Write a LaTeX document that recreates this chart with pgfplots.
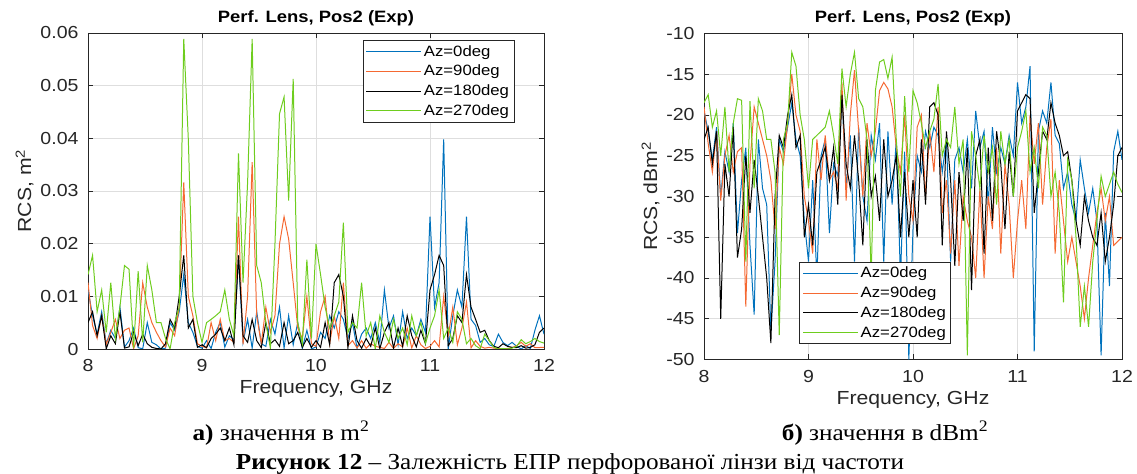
\documentclass[border=0pt]{standalone}
\usepackage{pgfplots}
\pgfplotsset{compat=1.18}
\usepackage{pgfplotstable}
\usepackage{fontspec}
\setmainfont{Liberation Sans}[FakeStretch=1.12]
\newfontfamily\capfont{Liberation Serif}[FakeStretch=1.1]
\definecolor{mblue}{RGB}{0,114,189}
\definecolor{morange}{RGB}{245,105,50}
\definecolor{mgreen}{RGB}{110,205,30}
\definecolor{axgray}{RGB}{38,38,38}
\definecolor{gridgray}{RGB}{222,222,222}

% RCS in dBm^2 for the four azimuths (the left panel shows the same data in m^2)
\pgfplotstableread{
f b o k g
8.00 -19.5 -19 -23 -18.5
8.04 -22 -23.5 -21.5 -17.5
8.08 -25.5 -27 -26 -21.5
8.12 -21.5 -22 -22 -19.5
8.16 -30 -30.5 -45 -25
8.20 -24.5 -25 -26 -19
8.24 -27 -22.5 -30 -27
8.28 -21 -27 -21.5 -21
8.32 -34.5 -24.5 -37.5 -18
8.36 -28 -24 -34 -18.2
8.40 -24 -43.5 -25 -38
8.44 -36 -26 -32 -18.3
8.48 -44.5 -19 -25.5 -29
8.52 -23 -21 -30 -18
8.56 -29 -23 -35 -19.5
8.60 -31 -25 -40 -23
8.64 -46.5 -28 -48 -23
8.68 -38 -34 -30 -27
8.72 -23 -24 -22.5 -47
8.76 -24.5 -26 -24 -23
8.80 -21.5 -21 -20 -21
8.84 -18.5 -15 -17.5 -12.3
8.88 -23 -20 -24 -14
8.92 -25 -22 -22.5 -20
8.96 -33 -30 -35 -23
9.00 -38 -33 -31 -29
9.04 -28 -37 -36 -23
9.08 -40 -23 -27 -22.5
9.12 -25 -28 -25.5 -22
9.16 -23 -22.5 -24 -21.5
9.20 -34.5 -28 -28 -19.5
9.24 -26 -27 -24 -22.5
9.28 -27.5 -29 -31 -26
9.32 -17.5 -16 -17.5 -14.3
9.36 -29 -30.5 -26 -19
9.40 -22.5 -20 -29 -15
9.44 -38 -14.5 -22.5 -12.3
9.48 -21.5 -22 -28 -18
9.52 -30 -30 -36 -19
9.56 -33 -21 -23 -23
9.60 -22.5 -25 -30 -40
9.64 -25.5 -22 -27.5 -17
9.68 -21 -17 -33 -13.5
9.72 -38 -16 -23 -13.2
9.76 -22 -16.8 -30 -15.5
9.80 -31 -19 -28 -12.9
9.84 -23 -24 -25 -23
9.88 -40 -27 -35 -30
9.92 -24.5 -20 -27 -17.7
9.96 -50 -30 -35 -27
10.00 -34 -33 -28 -17
10.04 -25 -21.5 -35 -18.5
10.08 -27 -20 -23 -21
10.12 -22 -30 -31 -24
10.16 -24 -22 -19 -22
10.20 -21.5 -27 -18.5 -20.5
10.24 -22.5 -19 -20 -16.2
10.28 -27 -32 -36 -25
10.32 -23 -28 -22 -23
10.36 -38 -37 -28 -24
10.40 -25.5 -28 -38.5 -19
10.44 -24 -38.5 -27 -26
10.48 -27 -30 -33 -23
10.52 -23 -33 -24 -49.5
10.56 -29 -35 -41.5 -22
10.60 -19.5 -40 -25 -25
10.64 -24 -29 -23 -29
10.68 -22 -40 -37 -22.5
10.72 -31 -30 -24 -27
10.76 -21.5 -34 -33 -24
10.80 -27 -24 -22 -31
10.84 -24 -37 -26 -22
10.88 -26 -26 -34 -26
10.92 -22.5 -31 -24.5 -23
10.96 -25 -40 -30 -30
11.00 -16 -33 -19.5 -24
11.04 -21 -28 -18.5 -22
11.08 -19 -34 -17.5 -19.5
11.12 -14 -20 -18 -27
11.16 -49 -26 -32 -24
11.20 -22 -21 -27 -29
11.24 -19.5 -31 -22 -21.5
11.28 -21 -24 -23 -22.5
11.32 -16 -20.5 -18.5 -30
11.36 -22.5 -37 -21 -27
11.40 -23.5 -28 -22.5 -32
11.44 -29 -33 -25 -43
11.48 -27 -38 -24.5 -25.5
11.52 -31 -35 -28 -28
11.56 -33 -38 -33 -35
11.60 -25.5 -41 -36 -46
11.64 -29 -45 -30 -41
11.68 -32 -40 -33 -46
11.72 -29 -36 -35 -38
11.76 -33 -32 -36 -33
11.80 -49.5 -29 -32 -27.5
11.84 -32 -33 -38 -30
11.88 -41 -30 -35 -28.5
11.92 -24.5 -36 -31 -27
11.96 -22 -35.5 -25 -28.5
12.00 -25.5 -35 -24 -29.5
}\rcs

\pgfplotsset{
  mstyle/.style={
    scale only axis,
    axis line style={axgray, line width=0.8pt},
    tick style={axgray, line width=0.8pt},
    major tick length=5bp,
    grid=major,
    major grid style={gridgray, line width=0.8pt},
    tick label style={font=\fontsize{17.5}{20}\selectfont, text=axgray},
    xticklabel style={yshift=-7bp},
    yticklabel style={xshift=-6bp},
    label style={font=\fontsize{19}{22}\selectfont, text=axgray},
    xlabel style={yshift=-2bp},
    title style={font=\bfseries\fontsize{16.5}{19}\selectfont, yshift=-2bp},
    xmin=8, xmax=12, xtick={8,9,10,11,12}, xticklabels={8,9,10,11,12},
    scaled y ticks=false,
    xlabel={Frequency, GHz},
    title={Perf. Lens, Pos2 (Exp)},
    legend cell align=left,
    legend style={draw=axgray, line width=0.8pt, fill=white,
      font=\fontsize{15}{18}\selectfont, inner sep=3bp, row sep=3.5bp},
    legend image code/.code={\draw[#1] (0bp,0bp) -- (55bp,0bp);},
    every axis plot/.append style={line width=1pt},
  }
}

\begin{document}
\begin{tikzpicture}
\useasboundingbox (0,0) rectangle (1137bp,474bp);
% ---- left panel: m^2 ----
\begin{axis}[mstyle,
  at={(88bp,125bp)}, anchor=south west,
  width=456bp, height=316bp,
  ymin=0, ymax=0.06,
  ytick={0,0.01,0.02,0.03,0.04,0.05,0.06},
  yticklabels={0,0.01,0.02,0.03,0.04,0.05,0.06},
  ylabel={RCS, m\textsuperscript{2}},
  legend style={at={(0.602,0.978)}, anchor=north west},
]
\addplot[mblue, no markers] table[x=f, y expr={10^(\thisrow{b}/10)}] {\rcs};
\addplot[morange, no markers] table[x=f, y expr={10^(\thisrow{o}/10)}] {\rcs};
\addplot[black, no markers] table[x=f, y expr={10^(\thisrow{k}/10)}] {\rcs};
\addplot[mgreen, no markers] table[x=f, y expr={10^(\thisrow{g}/10)}] {\rcs};
\legend{Az=0deg, Az=90deg, Az=180deg, Az=270deg}
\end{axis}
% ---- right panel: dBm^2 ----
\begin{axis}[mstyle,
  at={(704bp,114.5bp)}, anchor=south west,
  width=418bp, height=326bp,
  ymin=-50, ymax=-10,
  ytick={-50,-45,-40,-35,-30,-25,-20,-15,-10},
  yticklabels={-50,-45,-40,-35,-30,-25,-20,-15,-10},
  ylabel={RCS, dBm\textsuperscript{2}},
  legend style={at={(0.228,0.30)}, anchor=north west},
]
\addplot[mblue, no markers] table[x=f, y=b] {\rcs};
\addplot[morange, no markers] table[x=f, y=o] {\rcs};
\addplot[black, no markers] table[x=f, y=k] {\rcs};
\addplot[mgreen, no markers] table[x=f, y=g] {\rcs};
\legend{Az=0deg, Az=90deg, Az=180deg, Az=270deg}
\end{axis}
% ---- captions ----
\node[anchor=base, inner sep=0] at (281bp,34bp)
  {\capfont\fontsize{23}{26}\selectfont\textbf{а)} значення в m\textsuperscript{2}};
\node[anchor=base, inner sep=0] at (885bp,34bp)
  {\capfont\fontsize{23}{26}\selectfont\textbf{б)} значення в dBm\textsuperscript{2}};
\node[anchor=base, inner sep=0] at (570bp,5bp)
  {\capfont\fontsize{23}{26}\selectfont\textbf{Рисунок 12} – Залежність ЕПР перфорованої лінзи від частоти};
\end{tikzpicture}
\end{document}
